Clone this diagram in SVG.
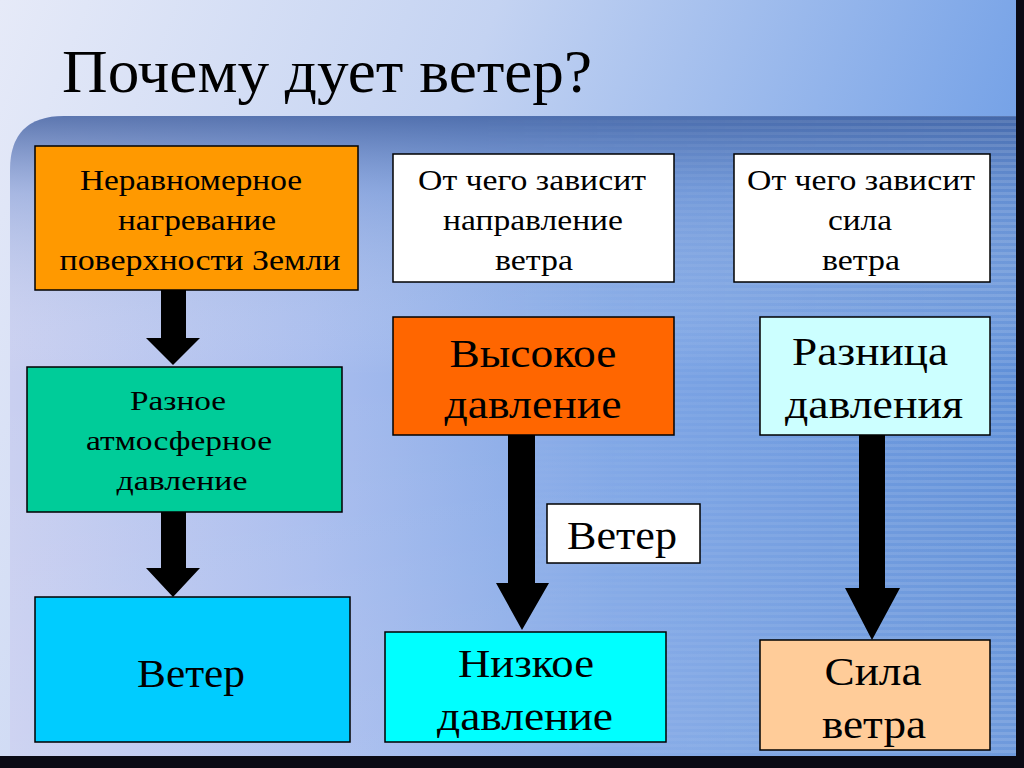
<svg xmlns="http://www.w3.org/2000/svg" width="1024" height="768" viewBox="0 0 1024 768">
<defs>
<linearGradient id="bgTop" x1="0" y1="0" x2="1" y2="0.3">
<stop offset="0" stop-color="#e6eaf8"/>
<stop offset="0.45" stop-color="#c4d3f2"/>
<stop offset="1" stop-color="#6f9ee6"/>
</linearGradient>
<linearGradient id="panelH" x1="0" y1="0" x2="1" y2="0">
<stop offset="0" stop-color="#c9cff0"/>
<stop offset="0.3" stop-color="#a9bdee"/>
<stop offset="0.6" stop-color="#7fa6e6"/>
<stop offset="1" stop-color="#5f8fd8"/>
</linearGradient>
<linearGradient id="panelV" x1="0" y1="0" x2="0" y2="1">
<stop offset="0" stop-color="#3a5a9a" stop-opacity="0.75"/>
<stop offset="0.12" stop-color="#6a8cc8" stop-opacity="0.35"/>
<stop offset="0.4" stop-color="#ffffff" stop-opacity="0"/>
<stop offset="1" stop-color="#ffffff" stop-opacity="0.1"/>
</linearGradient>
<pattern id="stripes" width="8" height="6" patternUnits="userSpaceOnUse">
<rect width="8" height="3" fill="#ffffff" fill-opacity="0.12"/>
</pattern>
<linearGradient id="stripeMask" x1="0" y1="0" x2="1" y2="0">
<stop offset="0" stop-color="#fff" stop-opacity="0"/>
<stop offset="0.45" stop-color="#fff" stop-opacity="0"/>
<stop offset="1" stop-color="#fff" stop-opacity="1"/>
</linearGradient>
<mask id="sm"><rect x="0" y="0" width="1024" height="768" fill="url(#stripeMask)"/></mask>
</defs>
<style>
.box{stroke:#000;stroke-width:1.5}
.t{font-family:"Liberation Serif","Tinos","Noto Serif","DejaVu Serif","FreeSerif","Times New Roman",serif;fill:#000;text-anchor:middle}
.title{font-family:"Liberation Serif","Tinos","Noto Serif","DejaVu Serif","FreeSerif","Times New Roman",serif;font-size:62px;fill:#000}
.c{font-size:29px}
.n{font-size:28px}
.b{font-size:41px}
.arrow{fill:#000}
</style>
<rect x="0" y="0" width="1024" height="768" fill="#111"/>
<rect x="0" y="0" width="1020" height="762" fill="url(#bgTop)"/>
<path d="M10,766 L10,170 Q10,116 64,116 L1020,116 L1020,762 Z" fill="url(#panelH)"/>
<path d="M10,766 L10,170 Q10,116 64,116 L1020,116 L1020,762 Z" fill="url(#panelV)"/>
<rect x="440" y="116" width="580" height="646" fill="url(#stripes)" mask="url(#sm)"/>
<rect x="0" y="756" width="1024" height="12" fill="#0a0a14"/>
<rect x="1016" y="0" width="8" height="768" fill="#0a0a14"/>
<text class="title" x="62" y="92" textLength="530" lengthAdjust="spacingAndGlyphs">Почему дует ветер?</text>

<g id="connectors">
<path class="arrow" d="M161,290 H186 V338 H200 L173,365 L146,338 H161 Z"/>
<path class="arrow" d="M161,512 H186 V568 H200 L173,597 L146,568 H161 Z"/>
<path class="arrow" d="M508,435 H535 V583 H549 L522,630 L496,583 H508 Z"/>
<path class="arrow" d="M859,435 H885 V588 H900 L872,640 L845,588 H859 Z"/>
</g>

<g id="n1">
<rect class="box" x="35" y="146" width="323" height="144" fill="#ff9900"/>
<text class="t c" x="191" y="190" textLength="222" lengthAdjust="spacingAndGlyphs">Неравномерное</text>
<text class="t c" x="197" y="230" textLength="158" lengthAdjust="spacingAndGlyphs">нагревание</text>
<text class="t c" x="200" y="270" textLength="281" lengthAdjust="spacingAndGlyphs">поверхности Земли</text>
</g>
<g id="n2">
<rect class="box" x="393" y="154" width="281" height="128" fill="#ffffff"/>
<text class="t c" x="532" y="190" textLength="228" lengthAdjust="spacingAndGlyphs">От чего зависит</text>
<text class="t c" x="533" y="230" textLength="180" lengthAdjust="spacingAndGlyphs">направление</text>
<text class="t c" x="534" y="270" textLength="78" lengthAdjust="spacingAndGlyphs">ветра</text>
</g>
<g id="n3">
<rect class="box" x="734" y="154" width="256" height="128" fill="#ffffff"/>
<text class="t c" x="861" y="190" textLength="228" lengthAdjust="spacingAndGlyphs">От чего зависит</text>
<text class="t c" x="860" y="230" textLength="64" lengthAdjust="spacingAndGlyphs">сила</text>
<text class="t c" x="861" y="270" textLength="78" lengthAdjust="spacingAndGlyphs">ветра</text>
</g>
<g id="n4">
<rect class="box" x="27" y="367" width="315" height="145" fill="#00cc99"/>
<text class="t n" x="178" y="410" textLength="96" lengthAdjust="spacingAndGlyphs">Разное</text>
<text class="t n" x="179" y="450" textLength="186" lengthAdjust="spacingAndGlyphs">атмосферное</text>
<text class="t n" x="182" y="490" textLength="131" lengthAdjust="spacingAndGlyphs">давление</text>
</g>
<g id="n5">
<rect class="box" x="35" y="597" width="315" height="145" fill="#00ccff"/>
<text class="t b" x="191" y="687" textLength="108" lengthAdjust="spacingAndGlyphs">Ветер</text>
</g>
<g id="n6">
<rect class="box" x="393" y="317" width="281" height="118" fill="#ff6600"/>
<text class="t b" x="533" y="367" textLength="167" lengthAdjust="spacingAndGlyphs">Высокое</text>
<text class="t b" x="533" y="418" textLength="177" lengthAdjust="spacingAndGlyphs">давление</text>
</g>
<g id="n7">
<rect class="box" x="547" y="504" width="153" height="59" fill="#ffffff"/>
<text class="t b" x="622" y="549" textLength="110" lengthAdjust="spacingAndGlyphs">Ветер</text>
</g>
<g id="n8">
<rect class="box" x="385" y="632" width="281" height="110" fill="#00ffff"/>
<text class="t b" x="526" y="677" textLength="136" lengthAdjust="spacingAndGlyphs">Низкое</text>
<text class="t b" x="525" y="730" textLength="176" lengthAdjust="spacingAndGlyphs">давление</text>
</g>
<g id="n9">
<rect class="box" x="760" y="317" width="230" height="118" fill="#ccffff"/>
<text class="t b" x="870" y="365" textLength="156" lengthAdjust="spacingAndGlyphs">Разница</text>
<text class="t b" x="874" y="418" textLength="178" lengthAdjust="spacingAndGlyphs">давления</text>
</g>
<g id="n10">
<rect class="box" x="760" y="640" width="230" height="110" fill="#ffcc99"/>
<text class="t b" x="873" y="685" textLength="97" lengthAdjust="spacingAndGlyphs">Сила</text>
<text class="t b" x="874" y="738" textLength="104" lengthAdjust="spacingAndGlyphs">ветра</text>
</g>
</svg>
